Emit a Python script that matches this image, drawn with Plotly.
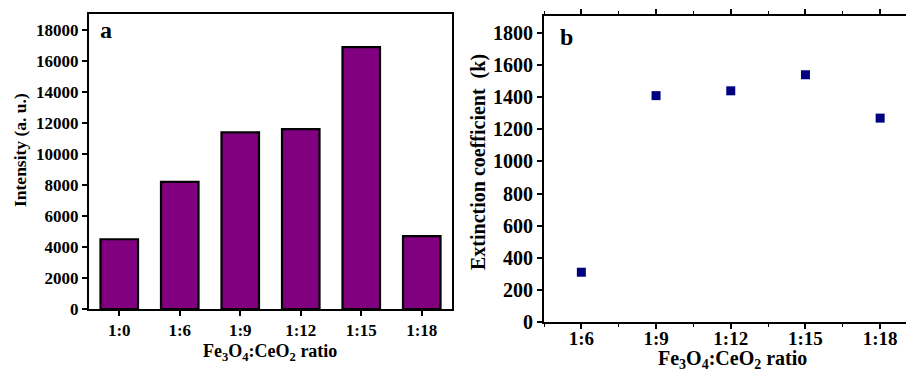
import plotly.graph_objects as go

cats_a = ["1:0", "1:6", "1:9", "1:12", "1:15", "1:18"]
intensity = [4500, 8200, 11400, 11600, 16900, 4700]

cats_b = ["1:6", "1:9", "1:12", "1:15", "1:18"]
extinction = [310, 1410, 1440, 1540, 1270]

yticks_a = [0, 2000, 4000, 6000, 8000, 10000, 12000, 14000, 16000, 18000]
yticks_b = [0, 200, 400, 600, 800, 1000, 1200, 1400, 1600, 1800]

FONT = "Liberation Serif"
W, H = 906, 373

def px_x(v):
    return v / W

def px_y(v):
    return 1 - v / H

fig = go.Figure()
fig.add_trace(go.Bar(
    x=list(range(len(cats_a))), y=intensity, width=0.62,
    marker=dict(color="#800080", line=dict(color="black", width=2.2)),
    xaxis="x", yaxis="y", showlegend=False))
fig.add_trace(go.Scatter(
    x=list(range(len(cats_b))), y=extinction, mode="markers",
    marker=dict(symbol="square", size=9, color="#000080"),
    xaxis="x2", yaxis="y2", showlegend=False))

axis_common = dict(showgrid=False, zeroline=False, linecolor="black",
                   ticks="outside", tickcolor="black", color="black",
                   automargin=False)

fig.update_layout(
    template="none",
    width=W, height=H, margin=dict(l=0, r=0, t=0, b=0, pad=0),
    plot_bgcolor="white", paper_bgcolor="white",
    font=dict(family=FONT, color="black"),
    xaxis=dict(**axis_common, domain=[px_x(89), px_x(452)], range=[-0.5, 5.5],
               tickvals=list(range(len(cats_a))), ticktext=cats_a,
               linewidth=2, mirror=True, ticklen=5, tickwidth=1.5,
               tickfont=dict(family=FONT, size=17, color="black", weight="bold"),
               anchor="y"),
    yaxis=dict(**axis_common, domain=[px_y(309), px_y(14)], range=[0, 19032],
               tickvals=yticks_a, ticktext=[str(v) for v in yticks_a],
               linewidth=2, mirror=True, ticklen=5, tickwidth=1.5,
               tickfont=dict(family=FONT, size=17, color="black", weight="bold"),
               anchor="x"),
    xaxis2=dict(**axis_common, domain=[px_x(544), 1.0], range=[-0.5, 4.346],
                tickvals=list(range(len(cats_b))), ticktext=cats_b,
                linewidth=1.8, mirror="ticks", ticklen=5, tickwidth=1.5,
                ticklabelstandoff=-7,
                minor=dict(tickvals=[-0.5, 0.5, 1.5, 2.5, 3.5, 4.5], ticks="outside",
                           ticklen=3, tickcolor="black", tickwidth=1),
                tickfont=dict(family=FONT, size=19, color="black", weight="bold"),
                anchor="y2"),
    yaxis2=dict(**axis_common, domain=[px_y(322), px_y(16)], range=[0, 1906],
                tickvals=yticks_b, ticktext=[str(v) for v in yticks_b],
                linewidth=1.8, ticklen=5, tickwidth=1.5,
                tickfont=dict(family=FONT, size=20, color="black", weight="bold"),
                anchor="x2"),
)

ann = [
    dict(text="a", x=px_x(106), y=px_y(30), font=dict(size=24)),
    dict(text="b", x=px_x(566), y=px_y(37), font=dict(size=24)),
    dict(text="Intensity (a. u.)", x=px_x(20), y=px_y(150), textangle=-90, font=dict(size=17.5)),
    dict(text="Fe<sub>3</sub>O<sub>4</sub>:CeO<sub>2</sub> ratio", x=px_x(270), y=px_y(352), font=dict(size=18)),
    dict(text="Extinction coefficient  (k)", x=px_x(478), y=px_y(162), textangle=-90, font=dict(size=20)),
    dict(text="Fe<sub>3</sub>O<sub>4</sub>:CeO<sub>2</sub> ratio", x=px_x(732), y=px_y(359), font=dict(size=20)),
]
for a in ann:
    f = a.pop("font")
    fig.add_annotation(**a, xref="paper", yref="paper", showarrow=False,
                       xanchor="center", yanchor="middle",
                       font=dict(family=FONT, color="black", weight="bold", **f))

fig.write_html("out.html")
